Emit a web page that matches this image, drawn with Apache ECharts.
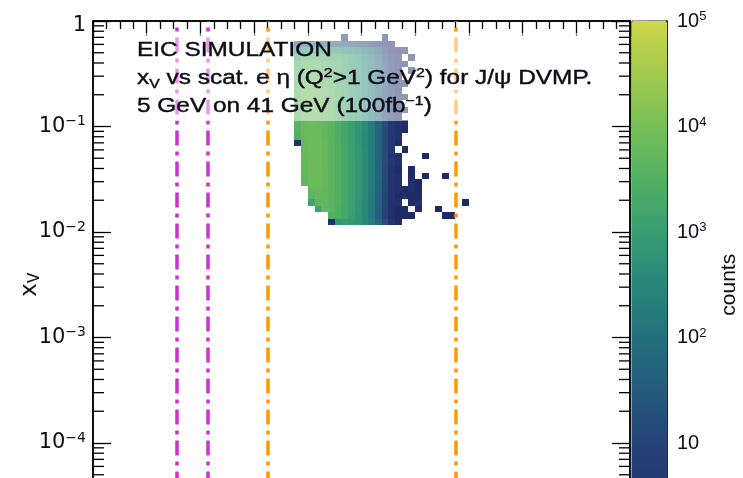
<!DOCTYPE html>
<html><head><meta charset="utf-8">
<script src="https://cdn.jsdelivr.net/npm/echarts@6/dist/echarts.min.js"></script>
<style>html,body{margin:0;padding:0;background:#fff}#c{width:743px;height:478px}</style>
</head><body><div id="c"></div>
<script>
// ---- histogram binning (scattered-electron eta columns, log10(x_V) rows) ----
const etaBinLow = [-0.25,-0.125,0,0.125,0.25,0.375,0.5,0.625,0.75,0.875,1.0,1.125,1.25,1.375,1.5,1.625,1.75,1.875,2.0,2.125,2.25,2.375,2.5,2.625,2.75,2.875,3.0];
const etaBinWidth = 0.125;
const logXvBinTop = [-0.125,-0.1875,-0.25,-0.3125,-0.375,-0.4375,-0.5,-0.5625,-0.625,-0.6875,-0.75,-0.8125,-0.875,-0.9375,-1.0,-1.0625,-1.125,-1.1875,-1.25,-1.3125,-1.375,-1.4375,-1.5,-1.5625,-1.625,-1.6875,-1.75,-1.8125,-1.875];
const logXvBinHeight = 0.0625;
// counts per row (top row first), columns follow etaBinLow
const counts = [
 [0,0,0,0,0,0,0,3,0,0,0,0,0,2],
 [15,30,45,50,45,40,30,25,20,15,10,6,3,2,1],
 [300,600,800,800,700,600,450,350,250,180,100,50,20,6,2,1,1],
 [1500,2500,3000,3000,2700,2200,1700,1200,800,500,280,130,50,12,3,2,0,1],
 [2500,4000,4500,4300,3800,3000,2200,1500,1000,650,350,160,60,15,4,2,1],
 [3000,4800,5200,5000,4300,3300,2400,1600,1050,680,360,170,65,16,5,2,0,1],
 [3500,5800,6300,6000,5000,3700,2600,1700,1050,680,370,175,68,17,5,2],
 [3800,6200,6800,6300,5300,3900,2700,1750,1080,690,375,178,70,18,4,2,1],
 [3900,6400,6900,6400,5400,3950,2750,1780,1090,700,380,180,70,18,5,1],
 [4000,6500,7000,6500,5500,4000,2800,1800,1100,700,380,180,70,18,5,2,1],
 [4000,6400,7000,6600,5500,4000,2800,1800,1100,710,385,180,68,17,4,2],
 [4100,6500,7100,6600,5600,4050,2850,1820,1110,710,380,178,66,16,5,1,1],
 [4000,6500,7000,6600,5600,4050,2850,1820,1100,700,380,176,66,16,4,2],
 [4000,6500,7000,6500,5500,4000,2800,1800,1100,700,380,180,65,16,4,2,1],
 [3800,6500,7000,6500,5500,4000,2800,1800,1100,700,380,175,62,15,4,2,1],
 [3500,6600,7100,6600,5600,4100,2900,1850,1100,700,370,170,60,15,4,2],
 [2,6400,7100,6700,5700,4100,2900,1850,1100,700,370,170,60,14,4,1],
 [0,6300,7100,6700,5700,4200,2950,1900,1150,720,380,170,60,14,4,0,1],
 [0,6200,7000,6700,5800,4200,3000,1950,1150,720,380,170,60,14,3,2,0,0,0,1],
 [0,6000,7000,6700,5800,4300,3000,1950,1200,740,390,175,62,14,4,2],
 [0,5800,6900,6700,5800,4300,3000,2000,1200,750,390,175,60,13,3,1,0,1],
 [0,5500,6800,6600,5800,4300,3000,2000,1200,750,390,175,58,12,3,2,0,1,0,1,0,0,1],
 [0,5000,6600,6500,5700,4200,3000,2000,1200,740,380,170,55,12,3,2,0,2,1],
 [0,0,5800,6300,5600,4200,3000,2000,1200,740,380,165,52,11,3,2,1,2,1],
 [0,0,4500,6000,5500,4100,2950,1950,1180,720,370,160,50,10,3,1,2,1,1],
 [0,0,1500,4800,5300,4000,2900,1900,1150,700,360,155,48,10,2,2,0,1,2,0,0,0,0,0,0,1],
 [0,0,0,1500,4800,3900,2850,1850,1100,680,350,150,45,9,2,1,1,0,1,0,0,1],
 [0,0,0,0,0,3000,2700,1800,1050,650,330,140,40,8,2,1,1,1,0,0,0,0,1,1],
 [0,0,0,0,0,2,700,900,800,600,350,180,70,15,3,1]
];
// acceptance boundaries in eta
const magentaLines = [-2.44, -1.87];
const orangeLines = [-0.75, 2.76];
// axis ranges / ticks
const etaRange = [-4, 6];
const xvRange = [1e-5, 1];
const countRange = [1, 1e5];
const minorMantissa = [2,3,4,5,6,7,8,9];
const plotDecades = [-5,-4,-3,-2,-1];
const cbarDecades = [0,1,2,3,4];
const paletteStops = ['#1f2a66','#22356f','#254577','#255a7d','#23707d','#28877a','#379d70','#52b063','#78bf58','#a3ca4e','#cfd648'];

// ---- build ----
const heatData = [];
counts.forEach((row, r) => row.forEach((c, i) => {
  if (c > 0) {
    const top = logXvBinTop[r];
    heatData.push([etaBinLow[i], etaBinLow[i] + etaBinWidth, Math.pow(10, top - logXvBinHeight), Math.pow(10, top), Math.log10(c)]);
  }
}));
const plotMinor = [];
plotDecades.forEach(d => minorMantissa.forEach(m => plotMinor.push([etaRange[0], m * Math.pow(10, d)])));
const cbarMinor = [];
cbarDecades.forEach(d => minorMantissa.forEach(m => cbarMinor.push([1, m * Math.pow(10, d)])));

const FONT = 'DejaVu Sans';
const supLabel = (v) => {
  const e = Math.round(Math.log10(v));
  if (e === 0) return '{one|1}';
  if (e === 1) return '{b|10}';
  return '{b|10}{s|' + (e < 0 ? '\u2212' : '') + Math.abs(e) + '}';
};

const chart = echarts.init(document.getElementById('c'), null, {renderer: 'canvas'});
const black = '#000';
const TXT = '#0d0d1a';
chart.setOption({
  animation: false,
  backgroundColor: '#fff',
  textStyle: {fontFamily: FONT},
  grid: [
    {left: 93, top: 21, width: 537, height: 527.5, show: true, borderColor: black, borderWidth: 1.5, backgroundColor: 'transparent', outerBoundsMode: 'none', containLabel: false},
    {left: 632, top: 21, width: 35, height: 527.5, show: true, borderColor: '#444', borderWidth: 1, backgroundColor: 'transparent', outerBoundsMode: 'none', containLabel: false}
  ],
  xAxis: [
    {gridIndex: 0, type: 'value', min: etaRange[0], max: etaRange[1], interval: 1, position: 'top',
     axisLine: {show: true, onZero: false, lineStyle: {color: black, width: 1.5}},
     axisTick: {show: true, inside: true, length: 15, lineStyle: {color: black, width: 1.3}},
     minorTick: {show: true, splitNumber: 4, length: 8, lineStyle: {color: black, width: 1.3}},
     axisLabel: {show: false}, splitLine: {show: false}},
    {gridIndex: 1, type: 'value', min: 0, max: 1, show: false}
  ],
  yAxis: [
    {gridIndex: 0, type: 'log', logBase: 10, min: xvRange[0], max: xvRange[1], position: 'left',
     axisLine: {show: true, onZero: false, lineStyle: {color: black, width: 1.5}},
     axisTick: {show: true, inside: true, length: 18, lineStyle: {color: black, width: 1.3}},
     splitLine: {show: false},
     axisLabel: {show: true, margin: 7, formatter: supLabel, color: TXT,
       rich: {
         b: {fontFamily: FONT, fontSize: 21, lineHeight: 24, color: TXT},
         s: {fontFamily: FONT, fontSize: 14, lineHeight: 14, verticalAlign: 'top', color: TXT},
         one: {fontFamily: FONT, fontSize: 21, lineHeight: 24, padding: [10, 0, 0, 0], color: TXT}
       }},
     name: '{x|x}{v|V}', nameLocation: 'middle', nameRotate: 90, nameGap: 50, nameMoveOverlap: false,
     nameTextStyle: {rich: {
       x: {fontFamily: FONT, fontSize: 23, lineHeight: 26, color: TXT},
       v: {fontFamily: FONT, fontSize: 15, lineHeight: 15, verticalAlign: 'bottom', color: TXT}
     }}},
    {gridIndex: 0, type: 'log', logBase: 10, min: xvRange[0], max: xvRange[1], position: 'right',
     axisLine: {show: true, onZero: false, lineStyle: {color: black, width: 1.5}},
     axisTick: {show: true, inside: true, length: 18, lineStyle: {color: black, width: 1.3}},
     axisLabel: {show: false}, splitLine: {show: false}},
    {gridIndex: 1, type: 'log', logBase: 10, min: countRange[0], max: countRange[1], position: 'right',
     axisLine: {show: true, onZero: false, lineStyle: {color: black, width: 1.5}},
     axisTick: {show: true, inside: true, length: 20, lineStyle: {color: black, width: 1.3}},
     splitLine: {show: false},
     axisLabel: {show: true, margin: 10, formatter: supLabel, color: TXT,
       rich: {
         b: {fontFamily: 'Liberation Sans', fontSize: 20, lineHeight: 22, color: TXT},
         s: {fontFamily: 'Liberation Sans', fontSize: 13, lineHeight: 13, verticalAlign: 'top', color: TXT},
         one: {fontFamily: 'Liberation Sans', fontSize: 20, color: TXT}
       }},
     name: 'counts', nameLocation: 'middle', nameRotate: 90, nameGap: 52, nameMoveOverlap: false,
     nameTextStyle: {fontFamily: 'Liberation Sans', fontSize: 21, color: TXT}}
  ],
  visualMap: [{
    type: 'continuous', min: 0, max: 5, dimension: 4, seriesIndex: 0,
    left: 632, top: 21, itemWidth: 35, itemHeight: 527.5, padding: 0,
    calculable: false, hoverLink: false, text: null, showLabel: false,
    inRange: {color: paletteStops}, textStyle: {color: 'transparent'}
  }],
  series: [
    {
      type: 'custom', xAxisIndex: 0, yAxisIndex: 0, z: 2, silent: true,
      dimensions: ['etaLo', 'etaHi', 'xvLo', 'xvHi', 'logCounts'],
      encode: {x: [0, 1], y: [2, 3]},
      data: heatData,
      renderItem: (params, api) => {
        const p1 = api.coord([api.value(0), api.value(3)]);
        const p2 = api.coord([api.value(1), api.value(2)]);
        const x = Math.round(p1[0]), y = Math.round(p1[1]);
        return {type: 'rect', shape: {x: x, y: y, width: Math.round(p2[0]) - x, height: Math.round(p2[1]) - y},
                style: {fill: api.visual('color')}};
      }
    },
    {
      type: 'custom', xAxisIndex: 0, yAxisIndex: 0, z: 3, silent: true,
      encode: {x: 0, y: 1},
      data: plotMinor,
      renderItem: (params, api) => {
        const pl = api.coord([etaRange[0], api.value(1)]);
        const pr = api.coord([etaRange[1], api.value(1)]);
        return {type: 'group', children: [
          {type: 'line', shape: {x1: pl[0], y1: pl[1], x2: pl[0] + 11, y2: pl[1]}, style: {stroke: black, lineWidth: 1.3}},
          {type: 'line', shape: {x1: pr[0], y1: pr[1], x2: pr[0] - 11, y2: pr[1]}, style: {stroke: black, lineWidth: 1.3}}
        ]};
      },
      markLine: {
        silent: true, symbol: ['none', 'none'], label: {show: false},
        data: magentaLines.map(v => ({xAxis: v, lineStyle: {color: '#cc33cc', width: 3.5, type: [15, 6, 4, 6]}}))
          .concat(orangeLines.map(v => ({xAxis: v, lineStyle: {color: '#ff9900', width: 3.5, type: [15, 6, 4, 6]}})))
      }
    },
    {
      type: 'custom', xAxisIndex: 1, yAxisIndex: 2, z: 3, silent: true,
      encode: {x: 0, y: 1},
      data: cbarMinor,
      renderItem: (params, api) => {
        const p = api.coord([1, api.value(1)]);
        return {type: 'line', shape: {x1: p[0], y1: p[1], x2: p[0] - 10, y2: p[1]}, style: {stroke: black, lineWidth: 1.3}};
      }
    }
  ],
  graphic: [
    {type: 'rect', silent: true, z: 10, shape: {x: 130, y: 33, width: 475, height: 88}, style: {fill: 'rgba(255,255,255,0.5)'}},
    {type: 'text', z: 11, x: 137, y: 50, scaleX: 1.22, style: {text: 'EIC SIMULATION', fontFamily: 'Liberation Sans', fontSize: 20, fill: TXT, stroke: TXT, lineWidth: 0.4, verticalAlign: 'middle'}},
    {type: 'text', z: 11, x: 137, y: 78.5, scaleX: 1.22, style: {
      text: '{m|x}{sub|V}{m| vs scat. e \u03b7 (Q}{sup|2}{m|>1 GeV}{sup|2}{m|) for J/\u03c8 DVMP.}',
      verticalAlign: 'middle', fill: TXT, stroke: TXT, lineWidth: 0.4,
      rich: {
        m: {fontFamily: 'Liberation Sans', fontSize: 20, lineHeight: 24, fill: TXT},
        sub: {fontFamily: 'Liberation Sans', fontSize: 13, lineHeight: 13, verticalAlign: 'bottom', fill: TXT},
        sup: {fontFamily: 'Liberation Sans', fontSize: 13, lineHeight: 13, verticalAlign: 'top', fill: TXT}
      }}},
    {type: 'text', z: 11, x: 137, y: 106.7, scaleX: 1.22, style: {
      text: '{m|5 GeV on 41 GeV (100fb}{sup|\u22121}{m|)}',
      verticalAlign: 'middle', fill: TXT, stroke: TXT, lineWidth: 0.4,
      rich: {
        m: {fontFamily: 'Liberation Sans', fontSize: 20, lineHeight: 24, fill: TXT},
        sup: {fontFamily: 'Liberation Sans', fontSize: 13, lineHeight: 13, verticalAlign: 'top', fill: TXT}
      }}}
  ]
});
</script></body></html>
